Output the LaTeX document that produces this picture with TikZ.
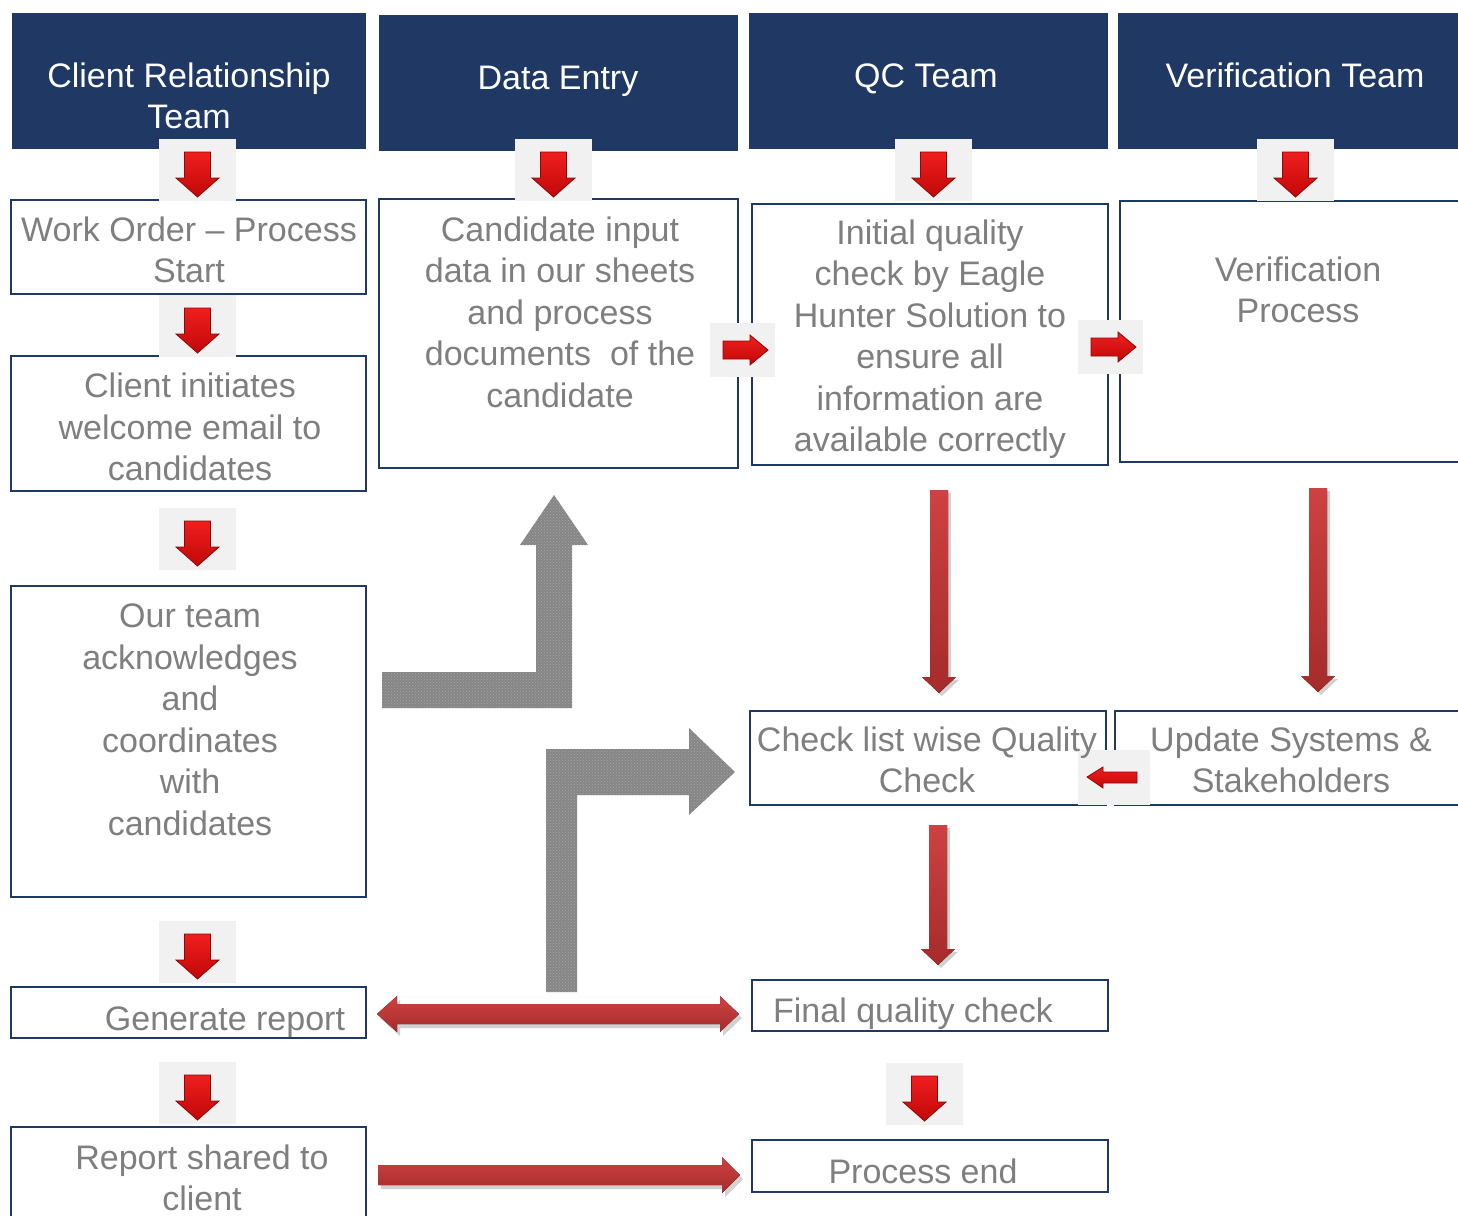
\documentclass[tikz,border=0pt]{standalone}
\usepackage{fontspec}
\setmainfont{Liberation Sans}
\usetikzlibrary{fit,patterns}
\definecolor{navy}{HTML}{1F3864}
\definecolor{txtgray}{HTML}{7F7F7F}
\definecolor{bigredA}{HTML}{CD4242}
\definecolor{bigredB}{HTML}{A52B2B}
\definecolor{smredA}{HTML}{F01E1E}
\definecolor{smredB}{HTML}{C00808}
\definecolor{smredE}{HTML}{8A0A0A}
\definecolor{bgl}{HTML}{F1F1F1}
\definecolor{grayarr}{HTML}{868686}
\definecolor{grayspk}{HTML}{A6A6A6}
\tikzset{
  hdr/.style={fill=navy, draw=none, inner sep=0pt},
  box/.style={draw=navy, line width=2pt, fill=white, inner sep=0pt},
  txt/.style={text=txtgray, font=\fontsize{34}{41.5}\selectfont, align=center,
    inner sep=0pt, execute at begin node=\strut, execute at end node=\strut},
  htxt/.style={txt, text=white},
  arrbg/.style={fill=bgl},
  smallred/.style={top color=smredA, bottom color=smredB, draw=smredE, line width=0.8pt},
  bigred/.style={top color=bigredA, bottom color=bigredB},
  shade/.style={fill=black, opacity=0.18},
  grayshape/.style={fill=grayarr, postaction={pattern=crosshatch dots, pattern color=grayspk}},
}
% small down arrow: #1 centre x, #2 top y of the light square
\newcommand\sdown[2]{%
  \begin{scope}[shift={(#1,#2)}]
    \fill[arrbg] (-38.5,0) rectangle (38.5,62);
    \draw[smallred] (-13,13) -- (13,13) -- (13,39) -- (21.5,39) -- (0,58)
      -- (-21.5,39) -- (-13,39) -- cycle;
  \end{scope}}
% small right arrow: #1,#2 top-left of light square
\newcommand\sright[2]{%
  \begin{scope}[shift={(#1,#2)}]
    \fill[arrbg] (0,0) rectangle (65,54);
    \draw[smallred] (13,18) -- (40,18) -- (40,12) -- (58,27) -- (40,42)
      -- (40,36) -- (13,36) -- cycle;
  \end{scope}}
% small left arrow
\newcommand\sleft[2]{%
  \begin{scope}[shift={(#1,#2)}]
    \fill[arrbg] (0,0) rectangle (72,55);
    \draw[smallred] (9,27) -- (25,17) -- (25,22) -- (59,22) -- (59,33)
      -- (25,33) -- (25,38) -- cycle;
  \end{scope}}
% big down arrow: #1 centre x, #2 top, #3 tip
\newcommand\bigdown[3]{%
  \begin{scope}[shift={(3,3)}]
    \fill[shade] (#1-9,#2) -- (#1+9,#2) -- (#1+9,#3-16) -- (#1+17,#3-16) -- (#1,#3)
      -- (#1-17,#3-16) -- (#1-9,#3-16) -- cycle;
  \end{scope}
  \fill[bigred] (#1-9,#2) -- (#1+9,#2) -- (#1+9,#3-16) -- (#1+17,#3-16) -- (#1,#3)
      -- (#1-17,#3-16) -- (#1-9,#3-16) -- cycle;}
\begin{document}
\begin{tikzpicture}[x=1pt,y=-1pt]
\useasboundingbox (0,0) rectangle (1458,1215);
\clip (0,0) rectangle (1458,1215);
\fill[white] (0,0) rectangle (1458,1215);

% headers
\node[hdr, fit={(12,13) (366,149)}] (h1) {};
\node[hdr, fit={(379,15) (738,151)}] (h2) {};
\node[hdr, fit={(749,13) (1108,149)}] (h3) {};
\node[hdr, fit={(1118,13) (1462,149)}] (h4) {};
\node[htxt] (h1t) at (189,102) {Client Relationship\\Team};
\node[htxt] (h2t) at (558,81) {Data Entry};
\node[htxt] (h3t) at (926,79) {QC Team};
\node[htxt] (h4t) at (1295,79) {Verification Team};

% boxes
\node[box, fit={(11,200) (366,294)}] (b1) {};
\node[box, fit={(11,356) (366,491)}] (b2) {};
\node[box, fit={(11,586) (366,897)}] (b3) {};
\node[box, fit={(11,987) (366,1038)}] (b4) {};
\node[box, fit={(11,1127) (366,1230)}] (b5) {};
\node[box, fit={(379,199) (738,468)}] (d1) {};
\node[box, fit={(752,204) (1108,465)}] (q1) {};
\node[box, fit={(750,711) (1106,805)}] (q2) {};
\node[box, fit={(752,980) (1108,1031)}] (q3) {};
\node[box, fit={(752,1140) (1108,1192)}] (q4) {};
\node[box, fit={(1120,201) (1470,462)}] (v1) {};
\node[box, fit={(1115,711) (1470,805)}] (v2) {};

% gray L arrows
\path[grayshape] (382,672) -- (536,672) -- (536,545) -- (520,545) -- (554,495)
  -- (588,545) -- (572,545) -- (572,708) -- (382,708) -- cycle;
\path[grayshape] (546,992) -- (546,749) -- (689,749) -- (689,728) -- (735,772)
  -- (689,815) -- (689,795) -- (577,795) -- (577,992) -- cycle;

% big red arrows
\bigdown{939}{490}{693}
\bigdown{1318}{488}{692}
\bigdown{938}{825}{965}
\begin{scope}[shift={(3,4)}]
\fill[shade] (377,1014) -- (397,996) -- (397,1004) -- (720,1004) -- (720,996) -- (739,1014)
  -- (720,1032) -- (720,1024) -- (397,1024) -- (397,1032) -- cycle;
\fill[shade] (378,1165) -- (722,1165) -- (722,1157) -- (740,1175) -- (722,1193)
  -- (722,1185) -- (378,1185) -- cycle;
\end{scope}
\fill[bigred] (377,1014) -- (397,996) -- (397,1004) -- (720,1004) -- (720,996) -- (739,1014)
  -- (720,1032) -- (720,1024) -- (397,1024) -- (397,1032) -- cycle;
\fill[bigred] (378,1165) -- (722,1165) -- (722,1157) -- (740,1175) -- (722,1193)
  -- (722,1185) -- (378,1185) -- cycle;

% small arrows
\sdown{197.5}{139}
\sdown{197.5}{295}
\sdown{197.5}{508}
\sdown{197.5}{921}
\sdown{197.5}{1062}
\sdown{553.5}{139}
\sdown{933.5}{139}
\sdown{1295.5}{139}
\sdown{924.5}{1063}
\sright{710}{323}
\sright{1078}{320}
\sleft{1078}{750}

% texts
\node[txt] (b1t) at (189,256) {Work Order -- Process\\Start};
\node[txt] (b2t) at (190,433) {Client initiates\\welcome email to\\candidates};
\node[txt] (b3t) at (190,726) {Our team\\acknowledges\\and\\coordinates\\with\\candidates};
\node[txt] (b4t) at (225,1022) {Generate report};
\node[txt] (b5t) at (202,1184) {Report shared to\\client};
\node[txt] (d1t) at (560,318) {Candidate input\\data in our sheets\\and process\\documents~ of the\\candidate};
\node[txt] (q1t) at (930,342) {Initial quality\\check by Eagle\\Hunter Solution to\\ensure all\\information are\\available correctly};
\node[txt] (v1t) at (1298,296) {Verification\\Process};
\node[txt] (q2t) at (927,766) {Check list wise Quality\\Check};
\node[txt] (v2t) at (1291,766) {Update Systems \&\\Stakeholders};
\node[txt] (q3t) at (913,1014) {Final quality check};
\node[txt] (q4t) at (923,1175) {Process end};
\end{tikzpicture}
\end{document}
